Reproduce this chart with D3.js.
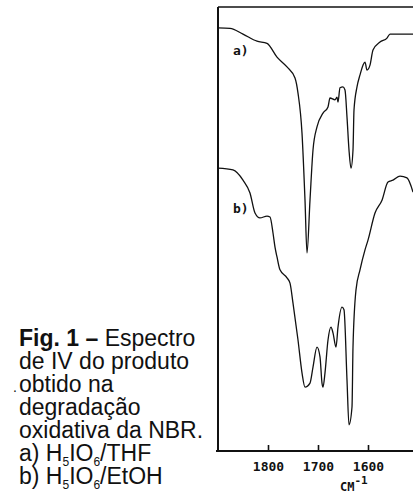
<!DOCTYPE html>
<html>
<head>
<meta charset="utf-8">
<script src="https://cdn.jsdelivr.net/npm/d3@7"></script>
<style>
  body { margin: 0; background: #fff; }
  .tick text { font-family: "DejaVu Sans Mono", monospace; font-weight: bold; }
</style>
</head>
<body>
<div id="chart"></div>
<script>
// spectrum a) H5IO6/THF  (wavenumber, relative transmittance)
var wnA = [1900, 1876, 1850, 1822, 1802, 1782, 1762, 1746, 1740, 1732, 1726, 1722, 1716, 1710, 1702,
           1690, 1680, 1676, 1666, 1662, 1660, 1656, 1650, 1646, 1642, 1638, 1634, 1630, 1628, 1622,
           1616, 1610, 1606, 1602, 1596, 1590, 1576, 1562, 1556, 1536, 1510];
var tA = [95.3, 95.2, 93.9, 92.3, 91.8, 88.7, 86.5, 84.0, 80.6, 71.6, 56.5, 44.6, 56.5, 67.8, 73.0,
          76.1, 77.5, 79.5, 79.1, 79.7, 78.6, 81.8, 82.0, 81.3, 75.2, 67.8, 63.7, 67.8, 76.8, 82.0,
          84.7, 86.9, 87.6, 85.8, 86.9, 90.3, 92.1, 93.0, 93.9, 93.9, 93.9];

// spectrum b) H5IO6/EtOH
var wnB = [1900, 1870, 1850, 1836, 1826, 1816, 1802, 1796, 1790, 1786, 1782, 1776, 1762, 1756, 1750,
           1740, 1732, 1726, 1716, 1710, 1702, 1696, 1692, 1690, 1686, 1680, 1674, 1670, 1664, 1660,
           1652, 1648, 1642, 1638, 1632, 1630, 1624, 1616, 1606, 1600, 1586, 1572, 1560, 1550, 1536,
           1522, 1510];
var tB = [63.7, 63.3, 61.0, 58.1, 53.6, 52.5, 52.9, 52.7, 49.1, 45.9, 43.7, 40.8, 39.0, 37.8, 33.3,
          25.0, 17.6, 14.4, 15.3, 18.9, 23.4, 21.2, 15.3, 14.4, 17.6, 25.0, 27.9, 26.6, 23.4, 27.9,
          32.4, 31.8, 16.0, 5.9, 9.9, 23.4, 36.3, 40.8, 45.3, 47.5, 53.6, 56.5, 60.6, 61.0, 61.9,
          61.5, 58.3];

var xTicks = [1800, 1700, 1600];
var seriesLabels = ["a)", "b)"];

// caption lines; "b" marks bold, "s" marks subscript
var caption = [
  [["Fig. 1 –", "b"], [" Espectro", ""]],
  [["de IV do produto", ""]],
  [["obtido na", ""]],
  [["degradação", ""]],
  [["oxidativa da NBR.", ""]],
  [["a) H", ""], ["5", "s"], ["IO", ""], ["6", "s"], ["/THF", ""]],
  [["b) H", ""], ["5", "s"], ["IO", ""], ["6", "s"], ["/EtOH", ""]]
];

var W = 413, H = 494;
var mLeft = 218, mTop = 7, mBottom = 451, mRight = 413;

var svg = d3.select("#chart").append("svg")
    .attr("width", W)
    .attr("height", H);

var x = d3.scaleLinear()
    .domain([1900, 1510])
    .range([mLeft, mRight]);

var y = d3.scaleLinear()
    .domain([0, 100])
    .range([mBottom, mTop]);

// frame: top line, left line, bottom axis
svg.append("line")
  .attr("x1", mLeft).attr("x2", mRight)
  .attr("y1", mTop).attr("y2", mTop)
  .attr("stroke", "#111").attr("stroke-width", 1.6);
svg.append("line")
  .attr("x1", mLeft).attr("x2", mLeft)
  .attr("y1", mTop).attr("y2", mBottom)
  .attr("stroke", "#111").attr("stroke-width", 2);
svg.append("line")
  .attr("x1", mLeft - 2).attr("x2", mRight)
  .attr("y1", mBottom).attr("y2", mBottom)
  .attr("stroke", "#111").attr("stroke-width", 2);

var xAxis = d3.axisBottom(x)
    .tickValues(xTicks)
    .tickSize(-6)
    .tickPadding(11)
    .tickFormat(d3.format("d"));

var gx = svg.append("g")
  .attr("transform", "translate(0," + mBottom + ")")
  .call(xAxis);
gx.select(".domain").remove();
gx.selectAll(".tick line").attr("stroke", "#111").attr("stroke-width", 1.6);
gx.selectAll(".tick text").attr("font-size", 13).attr("fill", "#111");

// CM-1 label
var unit = svg.append("text")
  .attr("x", 340)
  .attr("y", 491)
  .attr("font-family", "DejaVu Sans Mono, monospace")
  .attr("font-weight", "bold")
  .attr("font-size", 12)
  .attr("fill", "#111");
unit.append("tspan").text("CM");
unit.append("tspan").attr("dy", -7).attr("font-size", 11).text("-1");

// spectra
var line = d3.line()
  .x(function(d) { return x(d[0]); })
  .y(function(d) { return y(d[1]); })
  .curve(d3.curveMonotoneX);

[[wnA, tA], [wnB, tB]].forEach(function(s) {
  svg.append("path")
    .datum(d3.zip(s[0], s[1]))
    .attr("d", line)
    .attr("fill", "none")
    .attr("stroke", "#111")
    .attr("stroke-width", 1.3);
});

// series labels
svg.selectAll(".slabel")
  .data(seriesLabels)
  .enter().append("text")
  .attr("class", "slabel")
  .attr("x", 233)
  .attr("y", function(d, i) { return i == 0 ? 55 : 213; })
  .attr("font-family", "DejaVu Sans Mono, monospace")
  .attr("font-weight", "bold")
  .attr("font-size", 13)
  .attr("fill", "#111")
  .text(function(d) { return d; });

// caption
var capX = 19, capY = 346, capStep = 23;
caption.forEach(function(parts, i) {
  var t = svg.append("text")
    .attr("x", capX)
    .attr("y", capY + i * capStep)
    .attr("font-family", "Liberation Sans, Arial, sans-serif")
    .attr("font-size", 23)
    .attr("fill", "#111");
  var prevSub = false;
  parts.forEach(function(p) {
    var ts = t.append("tspan").text(p[0]);
    if (p[1] == "b") ts.attr("font-weight", "bold");
    if (p[1] == "s") {
      ts.attr("font-size", 12).attr("dy", 5);
      prevSub = true;
    } else if (prevSub) {
      ts.attr("dy", -5);
      prevSub = false;
    }
  });
});

// stray dot in front of "obtido"
svg.append("text")
  .attr("x", capX - 6)
  .attr("y", capY + 2 * capStep)
  .attr("font-family", "Liberation Sans, Arial, sans-serif")
  .attr("font-size", 14)
  .attr("fill", "#111")
  .text(".");
</script>
</body>
</html>
